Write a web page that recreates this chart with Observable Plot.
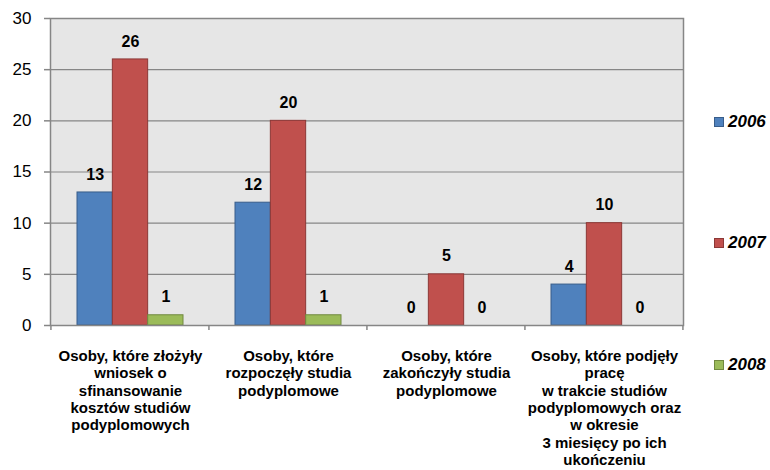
<!DOCTYPE html>
<html>
<head>
<meta charset="utf-8">
<script src="https://cdn.jsdelivr.net/npm/d3@7"></script>
<script src="https://cdn.jsdelivr.net/npm/@observablehq/plot@0.6"></script>
<style>
  body { margin: 0; background: #ffffff; font-family: "Liberation Sans", Arial, sans-serif; }
  #wrap { position: relative; width: 770px; height: 470px; overflow: hidden; }
  #legend .item { position: absolute; left: 714px; display: flex; align-items: center; height: 20px; transform: translateY(-10px); }
  #legend .sw { width: 8px; height: 8px; border: 1px solid; margin-right: 4px; }
  #legend .lbl { font-size: 17px; font-weight: bold; font-style: italic; color: #000; }
</style>
</head>
<body>
<div id="wrap"><div id="chart"></div><div id="legend"></div></div>
<script>
// ---- data ----
const categories = [
  "Osoby, które złożyły wniosek o sfinansowanie kosztów studiów podyplomowych",
  "Osoby, które rozpoczęły studia podyplomowe",
  "Osoby, które zakończyły studia podyplomowe",
  "Osoby, które podjęły pracę w trakcie studiów podyplomowych oraz w okresie 3 miesięcy po ich ukończeniu"
];
const categoryLabels = [
  "Osoby, które złożyły\nwniosek o\nsfinansowanie\nkosztów studiów\npodyplomowych",
  "Osoby, które\nrozpoczęły studia\npodyplomowe",
  "Osoby, które\nzakończyły studia\npodyplomowe",
  "Osoby, które podjęły\npracę\nw trakcie studiów\npodyplomowych oraz\nw okresie\n3 miesięcy po ich\nukończeniu"
];
const years = ["2006", "2007", "2008"];
const values2006 = [13, 12, 0, 4];
const values2007 = [26, 20, 5, 10];
const values2008 = [1, 1, 0, 0];
const yTicks = [0, 5, 10, 15, 20, 25, 30];
const fills = ["#4F81BD", "#C0504D", "#9BBB59"];
const strokes = ["#385D8A", "#8C3836", "#71893F"];

const seriesValues = [values2006, values2007, values2008];
const rows = [];
years.forEach((yr, j) => categories.forEach((c, i) => rows.push({category: c, year: yr, value: seriesValues[j][i]})));

// ---- layout ----
const W = 770, H = 470, mL = 50, mR = 87, mT = 18, mB = 145;
const padIn = 0.33, padOut = 0.165;
const gridColor = "#868686";
const band = d3.scaleBand().domain(categories).range([mL, W - mR]).paddingInner(padIn).paddingOuter(padOut);
const bw = band.bandwidth(), sub = bw / years.length;

const chart = Plot.plot({
  width: W, height: H,
  marginLeft: mL, marginRight: mR, marginTop: mT, marginBottom: mB,
  style: { fontFamily: "'Liberation Sans', Arial, sans-serif", background: "#ffffff", overflow: "visible" },
  x: { domain: categories, paddingInner: padIn, paddingOuter: padOut, axis: null },
  y: { domain: [0, 30], axis: null },
  marks: [
    Plot.frame({ fill: "#E6E6E6", stroke: null }),
    Plot.gridY(yTicks, { stroke: gridColor, strokeOpacity: 1, strokeWidth: 1.2 }),
    ...years.map((yr, j) => Plot.barY(rows.filter(r => r.year === yr), {
      x: "category", y: "value",
      insetLeft: j * sub, insetRight: (years.length - 1 - j) * sub,
      fill: fills[j], stroke: strokes[j], strokeWidth: 1
    })),
    Plot.frame({ stroke: gridColor, strokeWidth: 1.5 }),
    ...years.map((yr, j) => Plot.text(rows.filter(r => r.year === yr), {
      x: "category", y: "value", text: d => String(d.value),
      dx: (j - (years.length - 1) / 2) * sub, dy: -18,
      fontSize: 16, fontWeight: "bold", fill: "#000"
    })),
    Plot.text(categories, {
      x: d => d, text: (d, i) => categoryLabels[i],
      frameAnchor: "bottom", lineAnchor: "top", dy: 23,
      fontSize: 15, fontWeight: "bold", lineHeight: 1.16, fill: "#000"
    }),
    Plot.axisY(yTicks, {
      anchor: "left", tickSize: 6, tickPadding: 13, fontSize: 17,
      stroke: gridColor, strokeWidth: 1.5, fill: "#000", label: null
    })
  ]
});
document.getElementById("chart").appendChild(chart);

// small tick marks at category boundaries, positioned from Plot's x scale
const xs = chart.scale("x");
const g = d3.select(chart).append("g").attr("stroke", gridColor).attr("stroke-width", 1.5);
const first = xs.apply(categories[0]) - xs.step * padOut;
for (let i = 0; i <= categories.length; i++) {
  const xx = first + i * xs.step;
  g.append("line").attr("x1", xx).attr("x2", xx).attr("y1", H - mB).attr("y2", H - mB + 5);
}

// legend
const legendY = [122, 243, 365];
const leg = document.getElementById("legend");
years.forEach((yr, j) => {
  const it = document.createElement("div");
  it.className = "item";
  it.style.top = legendY[j] + "px";
  it.innerHTML = `<div class="sw" style="background:${fills[j]};border-color:${strokes[j]}"></div><span class="lbl">${yr}</span>`;
  leg.appendChild(it);
});
</script>
</body>
</html>
